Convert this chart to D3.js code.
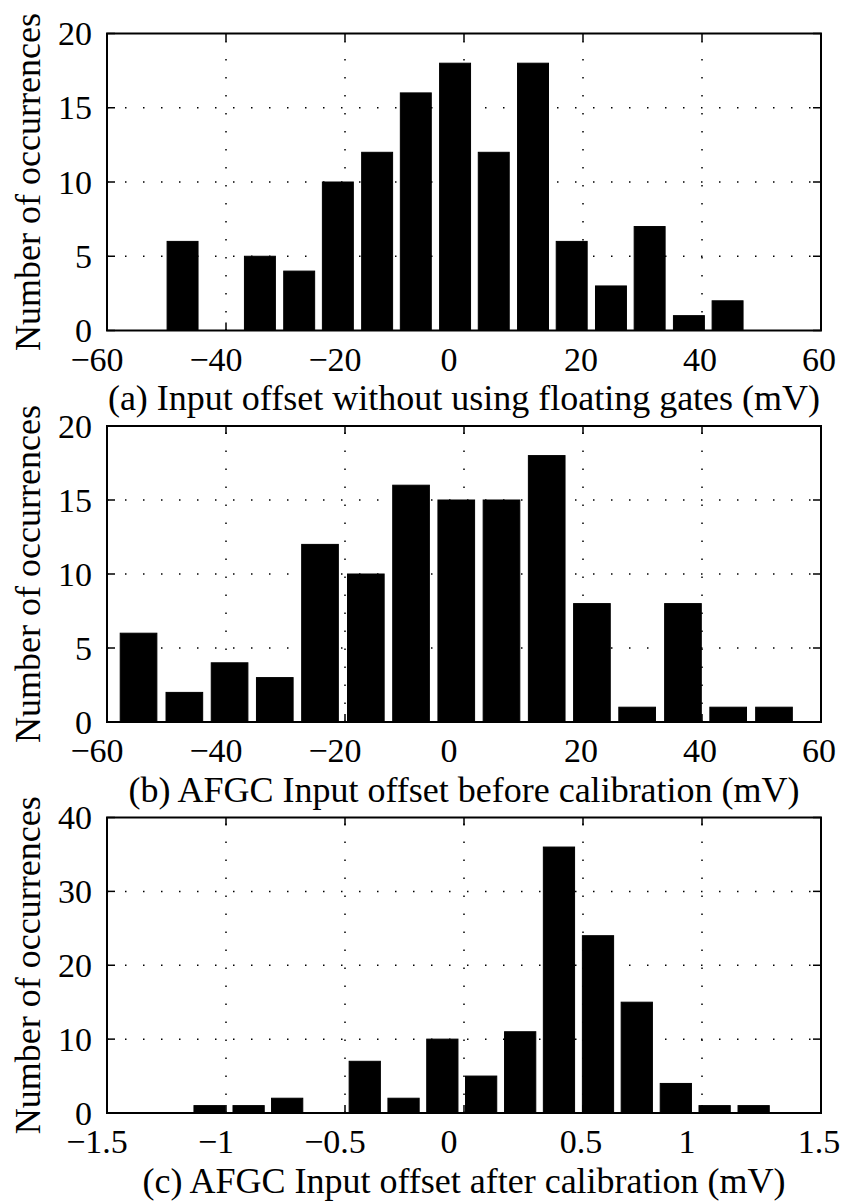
<!DOCTYPE html>
<html><head><meta charset="utf-8">
<script src="https://cdn.jsdelivr.net/npm/d3@7"></script>
<style>body{margin:0;background:#fff}</style>
</head><body>
<svg id="chart" width="843" height="1201"></svg>
<script>
// ---- data ----
const binCentersA = [-47.3, -40.8, -34.3, -27.7, -21.2, -14.6, -8.1, -1.5, 5.0, 11.6, 18.1, 24.7, 31.2, 37.8, 44.3];
const countsA     = [6, 0, 5, 4, 10, 12, 16, 18, 12, 18, 6, 3, 7, 1, 2];

const binCentersB = [-54.7, -47.0, -39.4, -31.8, -24.2, -16.5, -8.9, -1.3, 6.3, 13.9, 21.5, 29.1, 36.8, 44.4, 52.1];
const countsB     = [6, 2, 4, 3, 12, 10, 16, 15, 15, 18, 8, 1, 8, 1, 1];

const binCentersC = [-1.069, -0.905, -0.743, -0.580, -0.417, -0.254, -0.091, 0.072, 0.236, 0.399, 0.563, 0.726, 0.890, 1.053, 1.217];
const countsC     = [1, 1, 2, 0, 7, 2, 10, 5, 11, 36, 24, 15, 4, 1, 1];

const xTicksAB = [-60, -40, -20, 0, 20, 40, 60];
const xTicksC  = [-1.5, -1, -0.5, 0, 0.5, 1, 1.5];
const yTicksAB = [0, 5, 10, 15, 20];
const yTicksC  = [0, 10, 20, 30, 40];
const xDomainAB = [-60, 60];
const xDomainC  = [-1.5, 1.5];
const yDomainAB = [0, 20];
const yDomainC  = [0, 40];

const xLabelA = "(a) Input offset without using floating gates (mV)";
const xLabelB = "(b) AFGC Input offset before calibration (mV)";
const xLabelC = "(c) AFGC Input offset after calibration (mV)";
const yLabelText = "Number of occurrences";

// ---- layout ----
const FONT = "'Liberation Serif','Times New Roman',Times,serif";
const FS_TICK = 34;
const FS_LABEL = 36;
const left = 107, right = 821;
const panels = [
  {top: 33.5, bottom: 330.5, centers: binCentersA, counts: countsA, xd: xDomainAB, yd: yDomainAB, xt: xTicksAB, yt: yTicksAB, label: xLabelA},
  {top: 426,  bottom: 722,   centers: binCentersB, counts: countsB, xd: xDomainAB, yd: yDomainAB, xt: xTicksAB, yt: yTicksAB, label: xLabelB},
  {top: 817.5, bottom: 1113, centers: binCentersC, counts: countsC, xd: xDomainC,  yd: yDomainC,  xt: xTicksC,  yt: yTicksC,  label: xLabelC}
];

const svg = d3.select("#chart");
const fmt = v => (v < 0 ? "\u2212" : "") + String(Math.abs(v));
function nudge(s) {
  if (s.startsWith("\u2212")) return -10;
  if (s.length === 1) return -15;
  return -2;
}

panels.forEach(p => {
  const x = d3.scaleLinear().domain(p.xd).range([left, right]);
  const y = d3.scaleLinear().domain(p.yd).range([p.bottom, p.top]);
  const g = svg.append("g");

  // grid (dotted)
  const innerX = p.xt.slice(1, -1), innerY = p.yt.slice(1, -1);
  g.selectAll(".gx").data(innerX).join("line")
    .attr("x1", d => x(d)).attr("x2", d => x(d))
    .attr("y1", p.bottom).attr("y2", p.top)
    .attr("stroke", "#000").attr("stroke-width", 1.5).attr("stroke-dasharray", "1.5 16.5");
  g.selectAll(".gy").data(innerY).join("line")
    .attr("x1", left).attr("x2", right)
    .attr("y1", d => y(d)).attr("y2", d => y(d))
    .attr("stroke", "#000").attr("stroke-width", 1.5).attr("stroke-dasharray", "1.5 16.5");

  // ticks (inward, all sides)
  const tl = 8;
  p.xt.forEach(t => {
    g.append("line").attr("x1", x(t)).attr("x2", x(t)).attr("y1", p.bottom).attr("y2", p.bottom - tl).attr("stroke", "#000").attr("stroke-width", 1.5);
    g.append("line").attr("x1", x(t)).attr("x2", x(t)).attr("y1", p.top).attr("y2", p.top + tl).attr("stroke", "#000").attr("stroke-width", 1.5);
  });
  p.yt.forEach(t => {
    g.append("line").attr("x1", left).attr("x2", left + tl).attr("y1", y(t)).attr("y2", y(t)).attr("stroke", "#000").attr("stroke-width", 1.5);
    g.append("line").attr("x1", right).attr("x2", right - tl).attr("y1", y(t)).attr("y2", y(t)).attr("stroke", "#000").attr("stroke-width", 1.5);
  });

  // bars
  const binW = p.centers[1] - p.centers[0];
  const barW = x(p.xd[0] + 0.8 * binW) - x(p.xd[0]);
  g.selectAll(".bar").data(p.centers.map((c, i) => ({c, n: p.counts[i]})).filter(d => d.n > 0)).join("rect")
    .attr("x", d => x(d.c) - barW / 2)
    .attr("width", barW)
    .attr("y", d => y(d.n))
    .attr("height", d => y(0) - y(d.n))
    .attr("fill", "#000").attr("stroke", "#000").attr("stroke-width", 1);

  // box
  g.append("rect").attr("x", left).attr("y", p.top).attr("width", right - left).attr("height", p.bottom - p.top)
    .attr("fill", "none").attr("stroke", "#000").attr("stroke-width", 2);

  // x tick labels
  g.selectAll(".xl").data(p.xt).join("text")
    .attr("x", d => x(d) + nudge(fmt(d)))
    .attr("y", p.bottom + 40)
    .attr("text-anchor", "middle")
    .attr("font-family", FONT).attr("font-size", FS_TICK)
    .text(d => fmt(d));

  // y tick labels
  g.selectAll(".yl").data(p.yt).join("text")
    .attr("x", 92)
    .attr("y", d => y(d) + 11.5)
    .attr("text-anchor", "end")
    .attr("font-family", FONT).attr("font-size", FS_TICK)
    .text(d => fmt(d));

  // x label
  g.append("text")
    .attr("x", (left + right) / 2).attr("y", p.bottom + 79.5)
    .attr("text-anchor", "middle")
    .attr("font-family", FONT).attr("font-size", FS_LABEL)
    .text(p.label);

  // y label
  g.append("text")
    .attr("transform", `translate(40,${(p.top + p.bottom) / 2}) rotate(-90)`)
    .attr("text-anchor", "middle")
    .attr("font-family", FONT).attr("font-size", FS_LABEL)
    .text(yLabelText);
});
</script>
</body></html>
